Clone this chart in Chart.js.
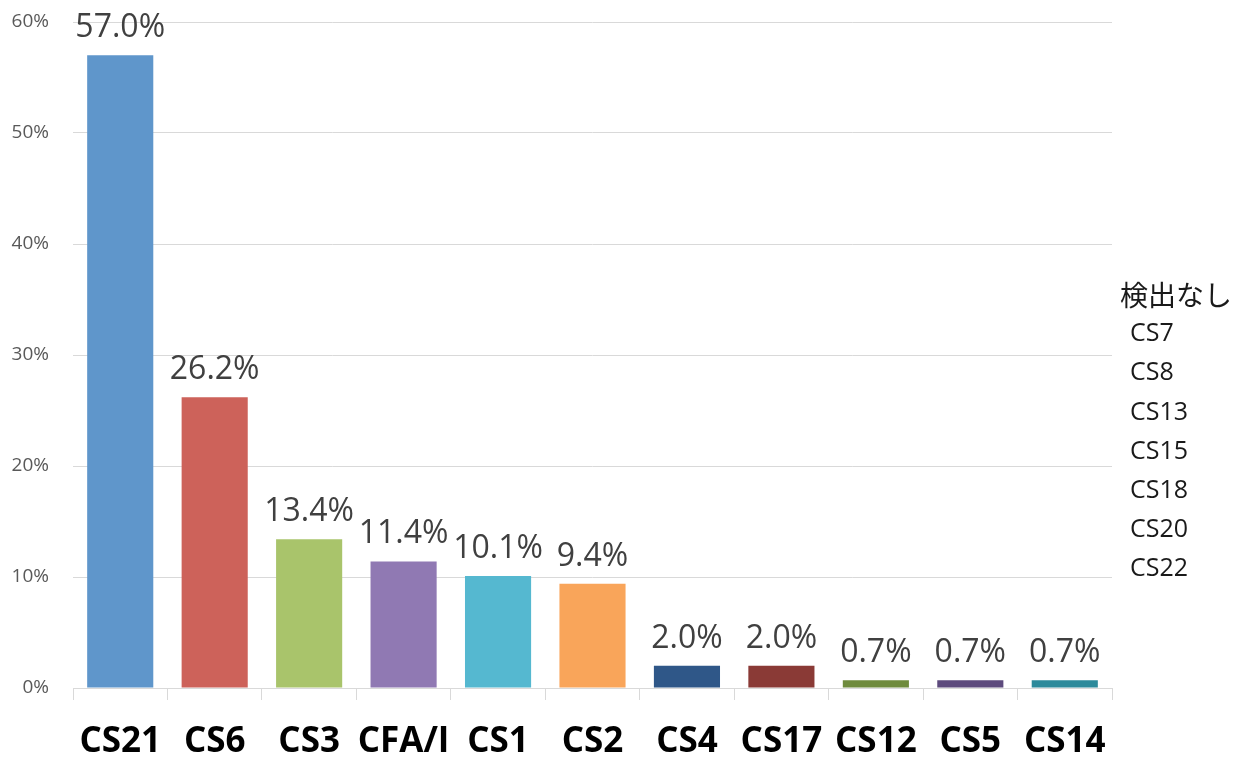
<!DOCTYPE html>
<html>
<head>
<meta charset="utf-8">
<script src="https://cdn.jsdelivr.net/npm/chart.js@4/dist/chart.umd.min.js"></script>
<style>
    html, body { margin: 0; padding: 0; background: #fff; }
    #wrap { width: 1251px; height: 766px; }
</style>
</head>
<body>
<div id="wrap"><canvas id="serotypeChart"></canvas></div>
<script>
const categories = ['CS21', 'CS6', 'CS3', 'CFA/I', 'CS1', 'CS2', 'CS4', 'CS17', 'CS12', 'CS5', 'CS14'];
const percentages = [57.0, 26.2, 13.4, 11.4, 10.1, 9.4, 2.0, 2.0, 0.7, 0.7, 0.7];
const barColors = ['#5F96CB', '#CD625A', '#A9C46B', '#9079B3', '#55B8D0', '#F9A55A',
                   '#2F5788', '#8A3A36', '#6F8B3D', '#5D4A7D', '#2D8A9B'];
const notDetectedTitle = '検出なし';
const notDetected = ['CS7', 'CS8', 'CS13', 'CS15', 'CS18', 'CS20', 'CS22'];

// value labels above each bar
const barLabels = {
    id: 'barLabels',
    afterDatasetsDraw(chart) {
        const ctx = chart.ctx;
        const meta = chart.getDatasetMeta(0);
        ctx.save();
        ctx.font = '32px "Open Sans", "Liberation Sans", sans-serif';
        ctx.fillStyle = '#404040';
        ctx.textAlign = 'center';
        ctx.textBaseline = 'alphabetic';
        meta.data.forEach((bar, i) => {
            ctx.fillText(percentages[i].toFixed(1) + '%', bar.x, bar.y - 18);
        });
        ctx.restore();
    }
};

// list of serotypes that were not found, at the right side
const sideList = {
    id: 'sideList',
    afterDraw(chart) {
        const ctx = chart.ctx;
        ctx.save();
        ctx.fillStyle = '#1a1a1a';
        ctx.textBaseline = 'middle';
        ctx.textAlign = 'left';
        ctx.font = '28px "Noto Sans CJK JP", sans-serif';
        ctx.fillText(notDetectedTitle, 1120, 295);
        ctx.font = '25px "Open Sans", "Liberation Sans", sans-serif';
        notDetected.forEach((name, i) => {
            ctx.fillText(name, 1130, 334 + i * 39.2);
        });
        ctx.restore();
    }
};

const ctx = document.getElementById('serotypeChart').getContext('2d');
new Chart(ctx, {
    type: 'bar',
    data: {
        labels: categories,
        datasets: [{
            data: percentages,
            backgroundColor: barColors,
            categoryPercentage: 1.0,
            barPercentage: 0.7
        }]
    },
    options: {
        responsive: true,
        maintainAspectRatio: false,
        animation: false,
        plugins: {
            legend: { display: false },
            tooltip: { enabled: false }
        },
        layout: {
            padding: { top: 22, right: 139, bottom: 0, left: 0 }
        },
        scales: {
            y: {
                min: 0,
                max: 60,
                ticks: {
                    stepSize: 10,
                    callback: v => v + '%',
                    color: '#595959',
                    padding: 24,
                    font: { size: 19, family: '"Open Sans", "Liberation Sans", sans-serif' }
                },
                grid: {
                    color: '#D9D9D9',
                    drawTicks: false
                },
                border: { display: false },
                afterFit(scale) {
                    scale.width = 73;
                    scale.paddingTop = 0;
                    scale.paddingBottom = 0;
                }
            },
            x: {
                ticks: {
                    color: '#000',
                    padding: 21,
                    autoSkip: false,
                    maxRotation: 0,
                    minRotation: 0,
                    font: { size: 35, weight: 'bold', family: '"Open Sans", "Liberation Sans", sans-serif' }
                },
                grid: {
                    offset: true,
                    drawOnChartArea: false,
                    drawTicks: true,
                    tickLength: 12,
                    color: '#D9D9D9'
                },
                border: { display: true, color: '#D9D9D9' },
                afterFit(scale) {
                    scale.height = 78;
                    scale.paddingLeft = 0;
                    scale.paddingRight = 0;
                }
            }
        }
    },
    plugins: [barLabels, sideList]
});
</script>
</body>
</html>
